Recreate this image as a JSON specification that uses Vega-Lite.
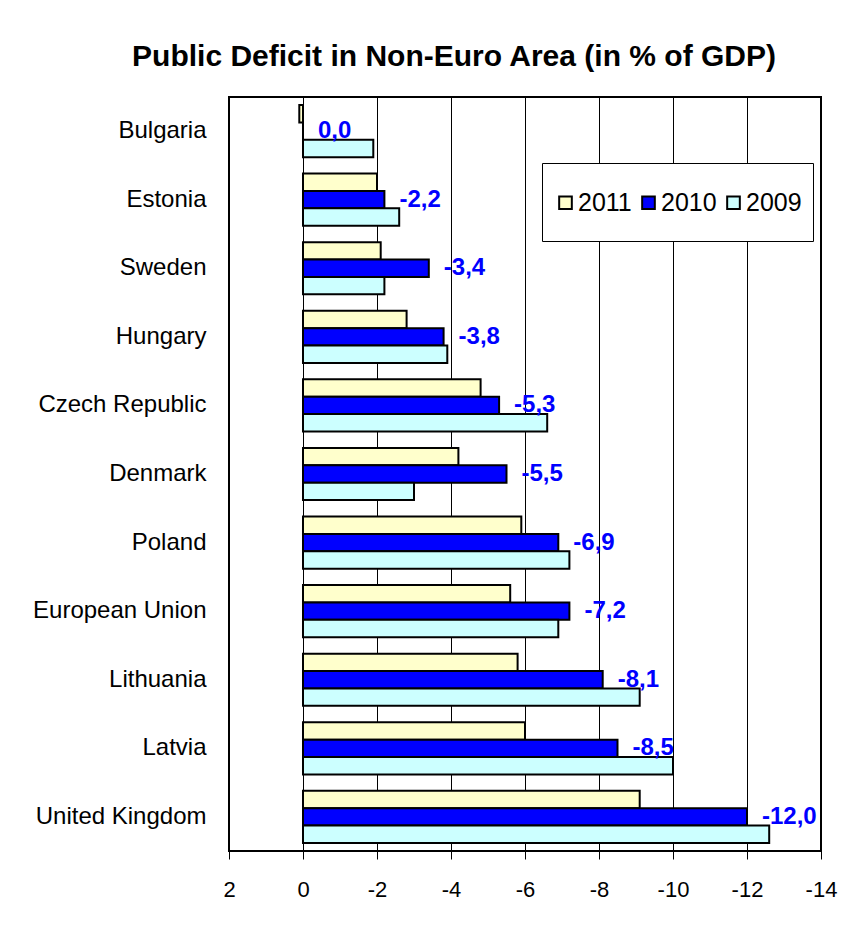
{
  "$schema": "https://vega.github.io/schema/vega-lite/v6.json",
  "autosize": {"type": "none"},
  "width": 592,
  "height": 754,
  "padding": {"left": 229, "top": 97, "right": 30, "bottom": 78},
  "background": "white",
  "config": {
    "font": "Liberation Sans",
    "locale": {"number": {"decimal": ",", "thousands": ".", "grouping": [3], "currency": ["", ""], "minus": "-"}},
    "view": {"stroke": "black", "strokeWidth": 2},
    "style": {"guide-label": {"lineHeight": 14}}
  },
  "title": {
    "text": "Public Deficit in Non-Euro Area (in % of GDP)",
    "fontSize": 30,
    "fontWeight": "bold",
    "color": "black",
    "anchor": "middle",
    "dx": -71,
    "offset": 25
  },
  "data": {
    "values": [
      {"country": "Bulgaria", "year": "2011", "value": 0.1},
      {"country": "Bulgaria", "year": "2010", "value": 0.0},
      {"country": "Bulgaria", "year": "2009", "value": -1.9},
      {"country": "Estonia", "year": "2011", "value": -2.0},
      {"country": "Estonia", "year": "2010", "value": -2.2},
      {"country": "Estonia", "year": "2009", "value": -2.6},
      {"country": "Sweden", "year": "2011", "value": -2.1},
      {"country": "Sweden", "year": "2010", "value": -3.4},
      {"country": "Sweden", "year": "2009", "value": -2.2},
      {"country": "Hungary", "year": "2011", "value": -2.8},
      {"country": "Hungary", "year": "2010", "value": -3.8},
      {"country": "Hungary", "year": "2009", "value": -3.9},
      {"country": "Czech Republic", "year": "2011", "value": -4.8},
      {"country": "Czech Republic", "year": "2010", "value": -5.3},
      {"country": "Czech Republic", "year": "2009", "value": -6.6},
      {"country": "Denmark", "year": "2011", "value": -4.2},
      {"country": "Denmark", "year": "2010", "value": -5.5},
      {"country": "Denmark", "year": "2009", "value": -3.0},
      {"country": "Poland", "year": "2011", "value": -5.9},
      {"country": "Poland", "year": "2010", "value": -6.9},
      {"country": "Poland", "year": "2009", "value": -7.2},
      {"country": "European Union", "year": "2011", "value": -5.6},
      {"country": "European Union", "year": "2010", "value": -7.2},
      {"country": "European Union", "year": "2009", "value": -6.9},
      {"country": "Lithuania", "year": "2011", "value": -5.8},
      {"country": "Lithuania", "year": "2010", "value": -8.1},
      {"country": "Lithuania", "year": "2009", "value": -9.1},
      {"country": "Latvia", "year": "2011", "value": -6.0},
      {"country": "Latvia", "year": "2010", "value": -8.5},
      {"country": "Latvia", "year": "2009", "value": -10.0},
      {"country": "United Kingdom", "year": "2011", "value": -9.1},
      {"country": "United Kingdom", "year": "2010", "value": -12.0},
      {"country": "United Kingdom", "year": "2009", "value": -12.6}
    ]
  },
  "encoding": {
    "y": {
      "field": "country",
      "type": "nominal",
      "sort": null,
      "scale": {"paddingInner": 0.24, "paddingOuter": 0.117},
      "axis": {
        "title": null,
        "domain": false,
        "ticks": false,
        "labelFontSize": 24,
        "labelColor": "black",
        "labelPadding": 23
      }
    },
    "yOffset": {
      "field": "year",
      "type": "nominal",
      "sort": ["2011", "2010", "2009"],
      "scale": {"paddingInner": 0, "paddingOuter": 0}
    },
    "x": {
      "field": "value",
      "type": "quantitative",
      "scale": {"domain": [-14, 2], "reverse": true, "nice": false, "zero": false},
      "axis": {
        "title": null,
        "values": [2, 0, -2, -4, -6, -8, -10, -12, -14],
        "format": "d",
        "grid": true,
        "gridColor": "black",
        "gridWidth": 1,
        "gridOpacity": 1,
        "domain": false,
        "ticks": true,
        "tickColor": "black",
        "tickSize": 8,
        "labelFlush": false,
        "labelFontSize": 22,
        "labelColor": "black",
        "labelPadding": 20
      }
    }
  },
  "layer": [
    {
      "mark": {"type": "bar", "stroke": "black", "strokeWidth": 2},
      "encoding": {
        "x2": {"datum": 0},
        "color": {
          "field": "year",
          "type": "nominal",
          "sort": ["2011", "2010", "2009"],
          "scale": {"domain": ["2011", "2010", "2009"], "range": ["#FFFFCC", "#0000FF", "#CCFFFF"]},
          "legend": {
            "title": " ",
            "titleFontSize": 10,
            "titlePadding": 6,
            "orient": "none",
            "legendX": 313,
            "legendY": 66,
            "direction": "horizontal",
            "columns": 3,
            "fillColor": "white",
            "strokeColor": "black",
            "padding": 11,
            "columnPadding": 4,
            "labelExpr": "[datum.label, '']",
            "labelFontSize": 25,
            "labelColor": "black",
            "labelOffset": 0,
            "symbolType": "square",
            "symbolSize": 160,
            "symbolStrokeColor": "black",
            "symbolStrokeWidth": 2
          }
        }
      }
    },
    {
      "transform": [{"filter": "datum.year == '2010'"}],
      "mark": {
        "type": "text",
        "align": "left",
        "baseline": "middle",
        "dx": 15,
        "fontSize": 24,
        "fontWeight": "bold",
        "color": "#0000FF"
      },
      "encoding": {
        "text": {"field": "value", "type": "quantitative", "format": ".1f"}
      }
    }
  ]
}
